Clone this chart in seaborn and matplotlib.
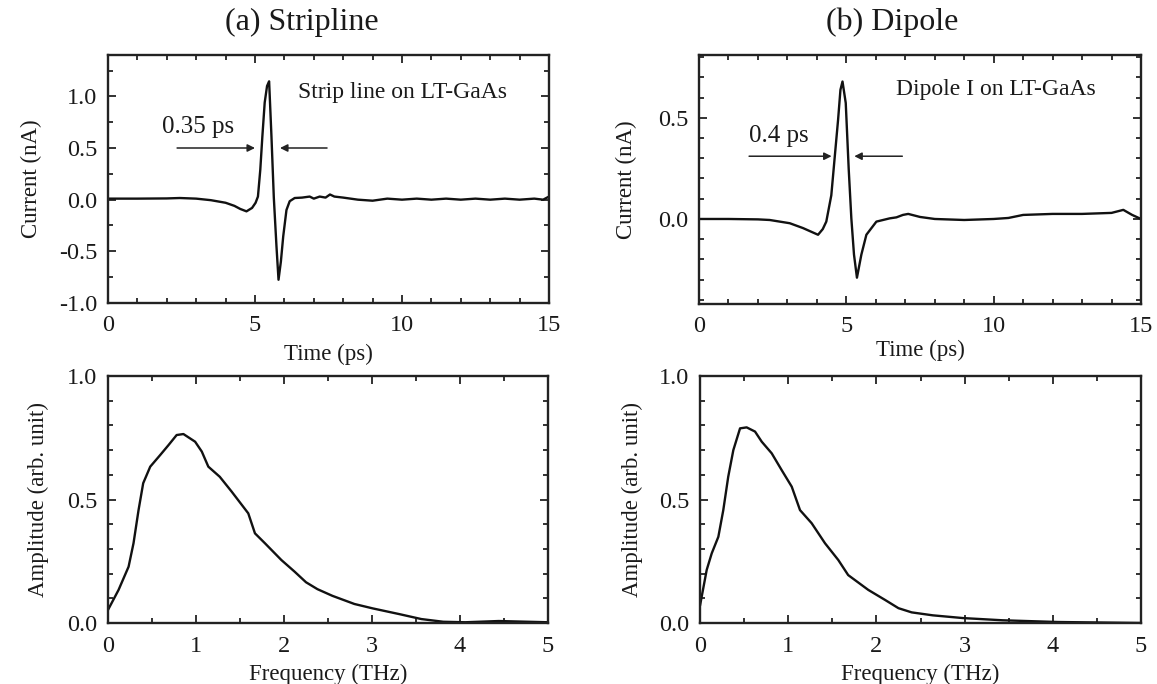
import numpy as np
import pandas as pd
import matplotlib
matplotlib.use("Agg")
import matplotlib.pyplot as plt
from matplotlib.ticker import MultipleLocator, FuncFormatter
import seaborn as sns

# ---------------- data ----------------
strip_t = [0, 1, 2, 2.44, 3.0, 3.5, 4.0, 4.3, 4.5, 4.71, 4.9, 5.02, 5.10, 5.18, 5.25,
           5.33, 5.41, 5.48, 5.56, 5.64, 5.73, 5.80, 5.88, 5.96, 6.07, 6.18, 6.35,
           6.6, 6.86, 7.0, 7.2, 7.4, 7.55, 7.7, 8.0, 8.5, 9.0, 9.5, 10.0, 10.5, 11.0,
           11.5, 12.0, 12.5, 13.0, 13.5, 14.0, 14.5, 14.8, 15.0]
strip_i = [0.01, 0.01, 0.012, 0.016, 0.01, -0.005, -0.03, -0.06, -0.09, -0.113, -0.08,
           -0.03, 0.03, 0.29, 0.61, 0.94, 1.10, 1.145, 0.61, 0.02, -0.45, -0.775,
           -0.60, -0.355, -0.10, -0.015, 0.016, 0.02, 0.03, 0.01, 0.03, 0.02, 0.05,
           0.03, 0.02, 0.0, -0.01, 0.01, 0.0, 0.01, 0.0, 0.01, 0.0, 0.01, 0.0, 0.01,
           0.0, 0.01, 0.0, 0.03]

dip_t = [0, 1, 2, 2.4, 3.08, 3.53, 4.04, 4.2, 4.32, 4.49, 4.60, 4.72, 4.80, 4.87, 4.98,
         5.08, 5.17, 5.26, 5.36, 5.51, 5.68, 6.02, 6.47, 6.7, 6.92, 7.1, 7.5, 8.0,
         9.0, 10.0, 10.5, 11.0, 12.0, 13.0, 14.0, 14.4, 14.7, 15.0]
dip_i = [0.0, 0.0, -0.002, -0.005, -0.021, -0.045, -0.078, -0.05, -0.013, 0.117, 0.296,
         0.49, 0.638, 0.679, 0.573, 0.248, 0.003, -0.176, -0.29, -0.176, -0.078, -0.013,
         0.003, 0.008, 0.02, 0.025, 0.01, 0.0, -0.005, 0.0, 0.005, 0.02, 0.025, 0.025,
         0.03, 0.045, 0.02, 0.0]

strip_f = [0.0, 0.12, 0.234, 0.29, 0.347, 0.40, 0.48, 0.593, 0.687, 0.78, 0.857, 0.99,
           1.066, 1.14, 1.27, 1.405, 1.594, 1.67, 1.783, 1.97, 2.12, 2.25, 2.38, 2.55,
           2.8, 3.01, 3.31, 3.56, 3.81, 4.06, 4.44, 5.0]
strip_a = [0.053, 0.134, 0.228, 0.323, 0.457, 0.566, 0.633, 0.68, 0.72, 0.761, 0.765,
           0.734, 0.694, 0.633, 0.592, 0.532, 0.444, 0.363, 0.323, 0.255, 0.208, 0.165,
           0.137, 0.11, 0.077, 0.059, 0.036, 0.016, 0.005, 0.003, 0.008, 0.003]

dip_f = [0.0, 0.076, 0.133, 0.208, 0.264, 0.32, 0.378, 0.454, 0.529, 0.624, 0.70,
         0.813, 0.926, 1.04, 1.134, 1.266, 1.417, 1.568, 1.68, 1.908, 2.10, 2.25,
         2.4, 2.64, 2.98, 3.43, 4.06, 5.0]
dip_a = [0.07, 0.215, 0.282, 0.349, 0.457, 0.592, 0.70, 0.788, 0.792, 0.775, 0.734,
         0.687, 0.619, 0.552, 0.457, 0.404, 0.323, 0.255, 0.194, 0.134, 0.093, 0.06,
         0.043, 0.031, 0.02, 0.011, 0.004, 0.0]

titles = ["(a) Stripline", "(b) Dipole"]
labels_inset = ["Strip line on LT-GaAs", "Dipole I on LT-GaAs"]
widths = ["0.35 ps", "0.4 ps"]

# ---------------- style ----------------
sns.set_theme(style="ticks")
plt.rcParams["font.family"] = ["Liberation Serif", "DejaVu Serif"]
plt.rcParams["axes.unicode_minus"] = False
TXT = "#1a1a1a"

fig = plt.figure(figsize=(11.57, 6.84), dpi=100)
W, H = 1157, 684

def box(l, r, t, b):
    return [l / W, 1 - b / H, (r - l) / W, (b - t) / H]

ax_tl = fig.add_axes(box(108, 549, 55, 303))
ax_tr = fig.add_axes(box(699, 1141, 55, 304))
ax_bl = fig.add_axes(box(108, 548, 376, 623))
ax_br = fig.add_axes(box(700, 1141, 376, 623))

df_ts = pd.DataFrame({"t": strip_t, "i": strip_i})
df_td = pd.DataFrame({"t": dip_t, "i": dip_i})
df_fs = pd.DataFrame({"f": strip_f, "a": strip_a})
df_fd = pd.DataFrame({"f": dip_f, "a": dip_a})

kw = dict(color="#111111", linewidth=1.7, sort=False, estimator=None)
sns.lineplot(data=df_ts, x="t", y="i", ax=ax_tl, **kw)
sns.lineplot(data=df_td, x="t", y="i", ax=ax_tr, **kw)
sns.lineplot(data=df_fs, x="f", y="a", ax=ax_bl, **kw)
sns.lineplot(data=df_fd, x="f", y="a", ax=ax_br, **kw)

def style(ax, xlim, ylim, xmaj, xmin, ymaj, ymin, xlabel, ylabel, xlab_y, ylab_x):
    ax.set_xlim(*xlim)
    ax.set_ylim(*ylim)
    ax.xaxis.set_major_locator(MultipleLocator(xmaj))
    ax.xaxis.set_minor_locator(MultipleLocator(xmin))
    ax.yaxis.set_major_locator(MultipleLocator(ymaj))
    ax.yaxis.set_minor_locator(MultipleLocator(ymin))
    ax.yaxis.set_major_formatter(FuncFormatter(lambda v, p: "{:.1f}".format(v)))
    ax.xaxis.set_major_formatter(FuncFormatter(lambda v, p: "{:g}".format(v)))
    ax.tick_params(which="both", direction="in", top=True, right=True,
                   colors="#222222", labelcolor=TXT, labelsize=17.5, width=1.3)
    ax.tick_params(which="major", length=6)
    ax.tick_params(which="minor", length=3.5)
    ax.tick_params(axis="x", which="major", pad=9)
    ax.tick_params(axis="y", which="major", pad=7.5)
    for s in ax.spines.values():
        s.set_linewidth(1.7)
        s.set_color("#222222")
    ax.set_xlabel(xlabel, fontsize=16.5, color=TXT)
    ax.set_ylabel(ylabel, fontsize=16.5, color=TXT)
    ax.xaxis.set_label_coords(0.5, xlab_y)
    ax.yaxis.set_label_coords(ylab_x, 0.5)

style(ax_tl, (0, 15), (-1.0, 1.4), 5, 1, 0.5, 0.25, "Time (ps)", "Current (nA)", -0.165, -0.15)
style(ax_tr, (0, 15), (-0.42, 0.81), 5, 1, 0.5, 0.1, "Time (ps)", "Current (nA)", -0.145, -0.14)
style(ax_bl, (0, 5), (0, 1.0), 1, 0.5, 0.5, 0.1, "Frequency (THz)", "Amplitude (arb. unit)", -0.165, -0.135)
style(ax_br, (0, 5), (0, 1.0), 1, 0.5, 0.5, 0.1, "Frequency (THz)", "Amplitude (arb. unit)", -0.165, -0.13)

# titles
fig.text(302 / W, 1 - 22 / H, titles[0], ha="center", va="center", fontsize=23, color=TXT)
fig.text(892 / W, 1 - 22 / H, titles[1], ha="center", va="center", fontsize=23, color=TXT)

# inset texts
ax_tl.text(6.45, 1.04, labels_inset[0], fontsize=17, color=TXT, va="center", ha="left")
ax_tr.text(6.7, 0.64, labels_inset[1], fontsize=17, color=TXT, va="center", ha="left")

# pulse width annotations
arrow = dict(arrowstyle="-|>", color="#222222", lw=1.1, mutation_scale=11, shrinkA=0, shrinkB=0)
ax_tl.annotate("", xy=(5.0, 0.5), xytext=(2.35, 0.5), arrowprops=arrow)
ax_tl.annotate("", xy=(5.85, 0.5), xytext=(7.45, 0.5), arrowprops=arrow)
ax_tl.text(1.85, 0.70, widths[0], fontsize=18, color=TXT, va="center", ha="left")

ax_tr.annotate("", xy=(4.5, 0.31), xytext=(1.7, 0.31), arrowprops=arrow)
ax_tr.annotate("", xy=(5.27, 0.31), xytext=(6.9, 0.31), arrowprops=arrow)
ax_tr.text(1.7, 0.41, widths[1], fontsize=18, color=TXT, va="center", ha="left")

fig.savefig("out.png", dpi=100)
